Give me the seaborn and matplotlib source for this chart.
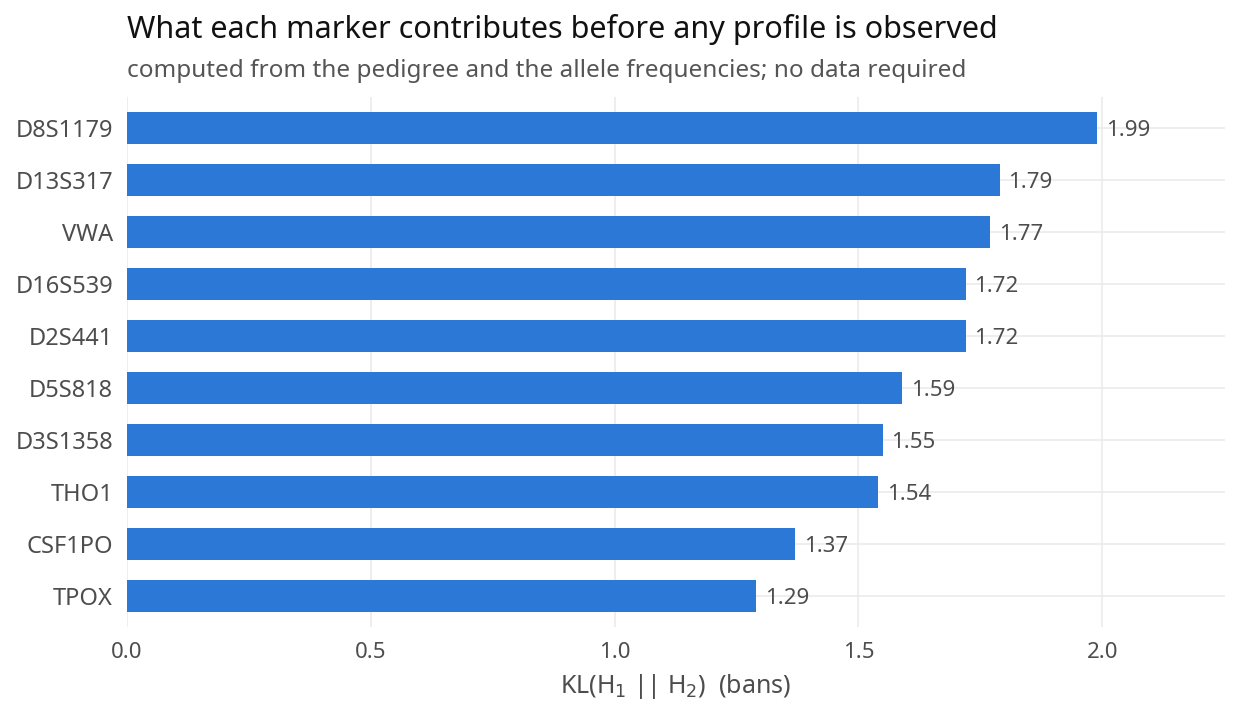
import matplotlib
matplotlib.use("Agg")
import matplotlib.pyplot as plt
import pandas as pd
import seaborn as sns

markers = ["D8S1179", "D13S317", "VWA", "D16S539", "D2S441",
           "D5S818", "D3S1358", "THO1", "CSF1PO", "TPOX"]
kl_bans = [1.99, 1.79, 1.77, 1.72, 1.72, 1.59, 1.55, 1.54, 1.37, 1.29]
x_ticks = [0.0, 0.5, 1.0, 1.5, 2.0]

df = pd.DataFrame({"marker": markers, "kl": kl_bans})

sns.set_theme(style="whitegrid")
plt.rcParams["font.family"] = ["Noto Sans", "DejaVu Sans"]

fig = plt.figure(figsize=(12.4, 7.2), dpi=100)
ax = fig.add_axes([0.1024, 0.129, 0.8855, 0.736])

sns.barplot(data=df, x="kl", y="marker", order=markers, color="#2B78D6",
            saturation=1, width=0.62, linewidth=0, ax=ax)

# value labels just right of each bar
for i, v in enumerate(kl_bans):
    ax.text(v + 0.018, i, f"{v:.2f}", va="center_baseline", ha="left",
            fontsize=16, color="#4D4D4D")

ax.set_xlim(0, 2.252)
ax.set_ylim(len(markers) - 0.4, -0.6)
ax.set_xticks(x_ticks)
ax.set_xticklabels([f"{t:.1f}" for t in x_ticks])
ax.grid(True, axis="both", color="#EBEBEB", linewidth=1.2)
ax.set_axisbelow(True)
for s in ax.spines.values():
    s.set_visible(False)
ax.tick_params(axis="y", length=0, labelsize=17, labelcolor="#4D4D4D", pad=10)
ax.tick_params(axis="x", length=0, labelsize=16, labelcolor="#4D4D4D", pad=10.5)
ax.set_ylabel("")
ax.set_xlabel(r"KL(H$_1$ || H$_2$)  (bans)", fontsize=18, color="#4D4D4D", labelpad=7)

fig.text(0.1024, 0.959, "What each marker contributes before any profile is observed",
         fontsize=22, color="#111111", ha="left", va="center")
fig.text(0.1024, 0.902, "computed from the pedigree and the allele frequencies; no data required",
         fontsize=17.5, color="#555555", ha="left", va="center")

fig.savefig("out.png", dpi=100)
